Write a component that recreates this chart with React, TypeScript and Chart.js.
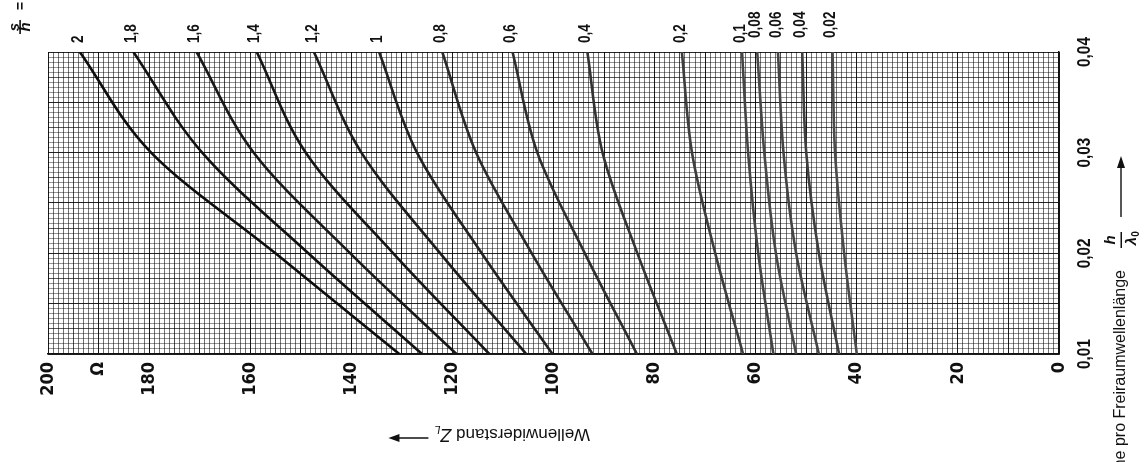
import React, { useEffect, useRef } from "react";
import { Chart, registerables } from "chart.js";

Chart.register(...registerables);

// h/λ0 values at which each curve is sampled
const hPoints = [0.01, 0.02, 0.03, 0.04];

// Wellenwiderstand Z_L (Ω) for every s/h curve, at the h/λ0 points above
const zS200 = [130.5, 155, 179.6, 193.7];
const zS180 = [126, 148.5, 169.5, 183.1];
const zS160 = [119.2, 140.2, 159.3, 170.6];
const zS140 = [112.7, 131.7, 149, 158.7];
const zS120 = [105.4, 122.4, 138, 147.4];
const zS100 = [100.2, 114.2, 127, 134.5];
const zS080 = [92.3, 104.3, 115.3, 122];
const zS060 = [83.5, 93.8, 103.2, 108.1];
const zS040 = [75.6, 83.4, 90.3, 93.3];
const zS020 = [62.5, 68, 72.6, 74.6];
const zS010 = [56.5, 59.5, 61.5, 62.7];
const zS008 = [52, 56, 58.3, 59.7];
const zS006 = [47.5, 52, 54.5, 55.6];
const zS004 = [43.5, 47.5, 50, 50.8];
const zS002 = [40, 42.5, 44.3, 44.8];

// s/h parameter labels, in the same order as the curves
const ratioLabels = ["2", "1,8", "1,6", "1,4", "1,2", "1", "0,8", "0,6", "0,4", "0,2", "0,1", "0,08", "0,06", "0,04", "0,02"];
const curveValues = [zS200, zS180, zS160, zS140, zS120, zS100, zS080, zS060, zS040, zS020, zS010, zS008, zS006, zS004, zS002];
const curveColors = ["#0d0d0d", "#111", "#181818", "#151515", "#1c1c1c", "#222", "#2a2a2a", "#2e2e2e", "#333", "#3d3d3d", "#444", "#474747", "#444", "#3e3e3e", "#4a4a4a"];

// axis labelling
const zTickValues = [200, 180, 160, 140, 120, 100, 80, 60, 40, 20, 0];
const zUnitValue = 190;
const hTickValues = [0.01, 0.02, 0.03, 0.04];
const hTickLabels = ["0,01", "0,02", "0,03", "0,04"];

const NARROW = "'Liberation Sans Narrow', 'DejaVu Sans Condensed', 'Liberation Sans', sans-serif";
const SANS = "'Liberation Sans', 'DejaVu Sans', sans-serif";

const textPlugin = {
  id: "sheetText",
  afterDraw(chart: any) {
    const ctx: CanvasRenderingContext2D = chart.ctx;
    const xs = chart.scales.x;
    const ys = chart.scales.y;
    ctx.save();
    ctx.fillStyle = "#111";
    ctx.strokeStyle = "#111";

    // s/h labels above the curves (condensed along the reading direction)
    ctx.font = `bold 17px ${SANS}`;
    ctx.textBaseline = "middle";
    ctx.textAlign = "left";
    curveValues.forEach((vals, i) => {
      const x = xs.getPixelForValue(vals[vals.length - 1]) - 2;
      ctx.save();
      ctx.translate(x, ratioLabels[i].length > 3 ? 38 : 43);
      ctx.rotate(-Math.PI / 2);
      ctx.scale(0.8, 1);
      ctx.fillText(ratioLabels[i], 0, 0);
      ctx.restore();
    });

    // "s/h =" header
    ctx.save();
    ctx.translate(20, 27);
    ctx.rotate(-Math.PI / 2);
    ctx.font = `italic bold 15px ${SANS}`;
    ctx.textAlign = "center";
    ctx.fillText("s", 0, -5);
    ctx.fillText("h", 0, 6);
    ctx.fillRect(-7, -0.7, 14, 1.6);
    ctx.font = `bold 14px ${SANS}`;
    ctx.fillText("=", 21, 1);
    ctx.restore();

    // h/λ0 tick labels on the right
    ctx.font = `bold 18px ${SANS}`;
    ctx.textAlign = "center";
    hTickValues.forEach((v, i) => {
      const y = ys.getPixelForValue(v);
      ctx.save();
      ctx.translate(1085, y);
      ctx.rotate(-Math.PI / 2);
      ctx.scale(0.85, 1);
      ctx.fillText(hTickLabels[i], 0, 0);
      ctx.restore();
    });

    // right axis title
    ctx.save();
    ctx.translate(1121, 270);
    ctx.rotate(-Math.PI / 2);
    ctx.font = `16px ${SANS}`;
    ctx.textAlign = "right";
    ctx.fillText("Höhe pro Freiraumwellenlänge", 0, 0);
    ctx.font = `italic bold 15px ${SANS}`;
    ctx.textAlign = "center";
    ctx.fillText("h", 30, -10);
    ctx.fillRect(22, -0.5, 16, 1.5);
    ctx.fillText("λ", 29, 11);
    ctx.font = `bold 10px ${SANS}`;
    ctx.fillText("0", 36, 15);
    ctx.lineWidth = 1.4;
    ctx.beginPath();
    ctx.moveTo(53, 0);
    ctx.lineTo(106, 0);
    ctx.stroke();
    ctx.beginPath();
    ctx.moveTo(114, 0);
    ctx.lineTo(102, -4);
    ctx.lineTo(102, 4);
    ctx.closePath();
    ctx.fill();
    ctx.restore();

    // bottom axis title, upside down
    ctx.save();
    ctx.translate(590, 434);
    ctx.rotate(Math.PI);
    ctx.font = `17px ${SANS}`;
    ctx.textAlign = "left";
    ctx.fillText("Wellenwiderstand", 0, 0);
    const w1 = ctx.measureText("Wellenwiderstand ").width;
    ctx.font = `italic 18px ${SANS}`;
    ctx.fillText("Z", w1, 0);
    const wz = ctx.measureText("Z").width;
    ctx.font = `italic 11px ${SANS}`;
    ctx.fillText("L", w1 + wz, 5);
    const ax = w1 + wz + 12;
    ctx.lineWidth = 1.3;
    ctx.beginPath();
    ctx.moveTo(ax, -4);
    ctx.lineTo(ax + 32, -4);
    ctx.stroke();
    ctx.beginPath();
    ctx.moveTo(ax + 40, -4);
    ctx.lineTo(ax + 29, -8);
    ctx.lineTo(ax + 29, 0);
    ctx.closePath();
    ctx.fill();
    ctx.restore();

    ctx.restore();
  },
};

export default function App() {
  const canvasRef = useRef<HTMLCanvasElement | null>(null);

  useEffect(() => {
    document.body.style.margin = "0";
    document.body.style.background = "#fff";
    const canvas = canvasRef.current;
    if (!canvas) return;

    const datasets = curveValues.map((vals, i) => ({
      label: ratioLabels[i],
      data: vals.map((z, k) => ({ x: z, y: hPoints[k] })),
      showLine: true,
      borderColor: curveColors[i],
      borderWidth: 2.6,
      pointRadius: 0,
      cubicInterpolationMode: "monotone" as const,
      fill: false,
    }));

    const chart = new Chart(canvas, {
      type: "scatter",
      data: { datasets },
      plugins: [textPlugin],
      options: {
        animation: false,
        responsive: false,
        maintainAspectRatio: false,
        // curves are smoothed along h/λ0
        indexAxis: "y",
        layout: { padding: { left: 48, top: 52, right: 86, bottom: 0 } },
        plugins: {
          legend: { display: false },
          tooltip: { enabled: false },
        },
        scales: {
          x: {
            type: "linear",
            reverse: true,
            min: 0,
            max: 200,
            afterFit: (s: any) => {
              s.height = 108;
            },
            border: { display: true, color: "#111", width: 1.5 },
            grid: {
              drawTicks: false,
              lineWidth: 1,
              color: (c: any) => {
                const v = Math.round(c.tick.value);
                if (v % 10 === 0) return "rgba(0,0,0,0.9)";
                if (v % 5 === 0) return "rgba(0,0,0,0.7)";
                return "rgba(0,0,0,0.55)";
              },
            },
            ticks: {
              stepSize: 1,
              autoSkip: false,
              minRotation: 90,
              maxRotation: 90,
              padding: 8,
              color: "#111",
              font: { family: NARROW, size: 18, weight: "bold" },
              callback: (value: any) => {
                const v = Math.round(Number(value));
                if (v === zUnitValue) return "Ω";
                return zTickValues.includes(v) ? String(v) : "";
              },
            },
          },
          y: {
            type: "linear",
            position: "right",
            min: 0.01,
            max: 0.04,
            afterFit: (s: any) => {
              s.width = 0;
            },
            border: { display: true, color: "#111", width: 1.5 },
            grid: {
              drawTicks: false,
              lineWidth: 1,
              color: (c: any) => {
                const k = Math.round(c.tick.value * 10000);
                if (k % 50 === 0) return "rgba(0,0,0,0.85)";
                if (k % 25 === 0) return "rgba(0,0,0,0.65)";
                return "rgba(0,0,0,0.42)";
              },
            },
            ticks: { display: false, stepSize: 0.0005 },
          },
        },
      },
    });

    return () => chart.destroy();
  }, []);

  return (
    <div style={{ position: "relative", width: 1145, height: 462, background: "#fff" }}>
      <canvas ref={canvasRef} width={1145} height={462} style={{ display: "block", width: 1145, height: 462 }} />
    </div>
  );
}
